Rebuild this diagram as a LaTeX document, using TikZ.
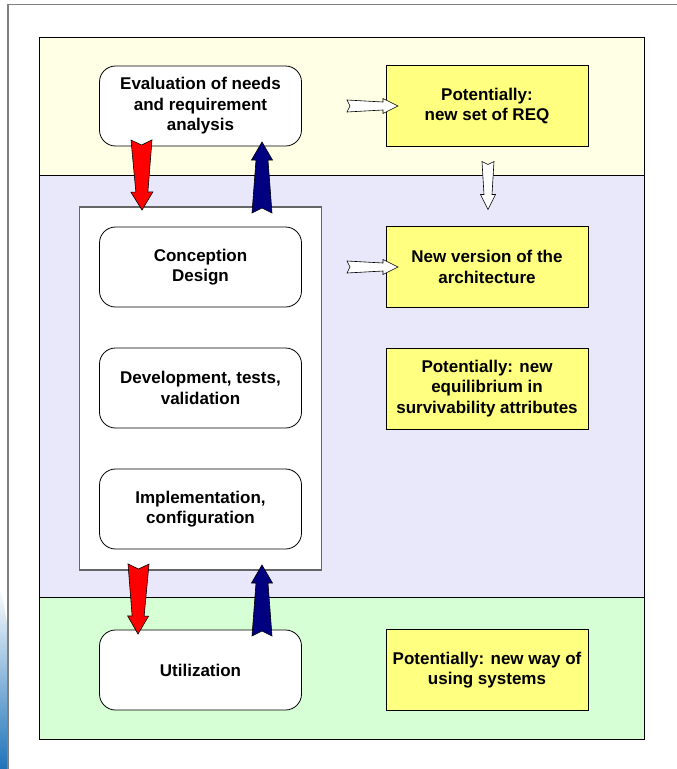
\documentclass[tikz,border=0pt]{standalone}
\usepackage{fontspec}
\setmainfont{Liberation Sans}
\usetikzlibrary{calc}

\definecolor{bandyellow}{RGB}{255,255,230}
\definecolor{bandblue}{RGB}{232,232,250}
\definecolor{bandgreen}{RGB}{214,255,214}
\definecolor{noteyellow}{RGB}{255,255,128}
\definecolor{navy}{RGB}{0,0,128}
\definecolor{framegray}{RGB}{128,128,128}
\definecolor{cornerblue}{RGB}{30,115,185}

% Block arrow: #1 style, #2 tail point, #3 tip point,
% #4 tail half width, #5 shaft half width at the head,
% #6 head half width, #7 head length, #8 tail notch depth
\newcommand\blkarrow[8]{%
  \coordinate (bt) at (#2);
  \coordinate (bp) at (#3);
  \coordinate (bh) at ($(bp)!#7!(bt)$);
  \draw[#1] ($(bt)!#4!90:(bp)$) -- ($(bt)!#8!(bp)$) -- ($(bt)!#4!-90:(bp)$)
    -- ($(bh)!#5!90:(bt)$) -- ($(bh)!#6!90:(bt)$) -- (bp)
    -- ($(bh)!#6!-90:(bt)$) -- ($(bh)!#5!-90:(bt)$) -- cycle;
}

\tikzset{
  band/.style={draw=black, line width=1pt, inner sep=0pt, outer sep=0pt,
    minimum width=605pt},
  phasebox/.style={draw=black, line width=0.8pt, fill=white, rounded corners=16pt,
    minimum width=202pt, minimum height=80pt, inner sep=0pt, outer sep=0pt,
    align=center, font=\bfseries\fontsize{17}{20.5}\selectfont},
  notebox/.style={draw=black, line width=0.8pt, fill=noteyellow,
    minimum width=202pt, minimum height=81pt, inner sep=0pt, outer sep=0pt,
    align=center, font=\bfseries\fontsize{17}{20.5}\selectfont},
  redarrow/.style={draw=black, line width=0.6pt, fill=red},
  navyarrow/.style={draw=black, line width=0.6pt, fill=navy},
  whitearrow/.style={draw=black, line width=0.6pt, fill=white},
}

\begin{document}
\begin{tikzpicture}[x=1pt, y=-1pt]
  \useasboundingbox (0,0) rectangle (677,769);

  % page decoration: frame lines and blue corner strip
  \shade[top color=white, bottom color=cornerblue, shading angle=0]
    (0,586) -- (3,600) -- (8,628) -- (8,769) -- (0,769) -- cycle;
  \draw[framegray, line width=1.5pt] (8,769) -- (8,4.5) -- (677,4.5);

  % phase bands
  \node[band, fill=bandyellow, minimum height=138pt] (phaseA) at (341.5,106) {};
  \node[band, fill=bandblue, minimum height=422.5pt] (phaseB) at (341.5,386.25) {};
  \node[band, fill=bandgreen, minimum height=141.5pt] (phaseC) at (341.5,668.25) {};

  % engineering stages frame
  \node[draw=black!60, line width=1.2pt, fill=white, minimum width=242pt,
    minimum height=363pt, inner sep=0pt, outer sep=0pt] (stage) at (200.5,388.5) {};

  % lifecycle activities
  \node[phasebox] (eval) at (200.5,106) {Evaluation of needs\\and requirement\\analysis};
  \node[phasebox] (concep) at (200.5,267) {Conception\\Design};
  \node[phasebox] (devel) at (200.5,388) {Development, tests,\\validation};
  \node[phasebox] (impl) at (200.5,509) {Implementation,\\configuration};
  \node[phasebox] (util) at (200.5,670) {Utilization};

  % resulting changes
  \node[notebox] (req) at (487,106) {Potentially:\\new set of REQ};
  \node[notebox] (arch) at (487,267) {New version of the\\architecture};
  \node[notebox] (surv) at (487,388.5) {Potentially: new\\equilibrium in\\survivability attributes};
  \node[notebox] (usage) at (487,670) {Potentially: new way of\\using systems};

  % flow between activities
  \blkarrow{redarrow}{$(eval.south)+(-59,-6)$}{$(stage.north)+(-58.5,3)$}{10.5pt}{6pt}{11pt}{18pt}{5pt}
  \blkarrow{navyarrow}{$(stage.north)+(61.5,6)$}{$(eval.south)+(61.5,-4)$}{10pt}{6pt}{10.5pt}{18pt}{5pt}
  \blkarrow{redarrow}{$(stage.south)+(-62,-6)$}{$(util.north)+(-62.5,4)$}{10.5pt}{6pt}{10.5pt}{18pt}{5pt}
  \blkarrow{navyarrow}{$(util.north)+(61.5,6)$}{$(stage.south)+(61.5,-5)$}{10pt}{6pt}{10.5pt}{18pt}{5pt}

  % consequences
  \blkarrow{whitearrow}{$(eval.east)+(45.5,0)$}{$(req.west)+(12,0)$}{6pt}{4pt}{7.5pt}{15pt}{3pt}
  \blkarrow{whitearrow}{$(concep.east)+(45.5,0)$}{$(arch.west)+(12,0)$}{6pt}{4pt}{7.5pt}{15pt}{3pt}
  \blkarrow{whitearrow}{$(req.south)+(1,15)$}{$(arch.north)+(1,-17)$}{6pt}{4pt}{7.5pt}{15pt}{3pt}
\end{tikzpicture}
\end{document}
